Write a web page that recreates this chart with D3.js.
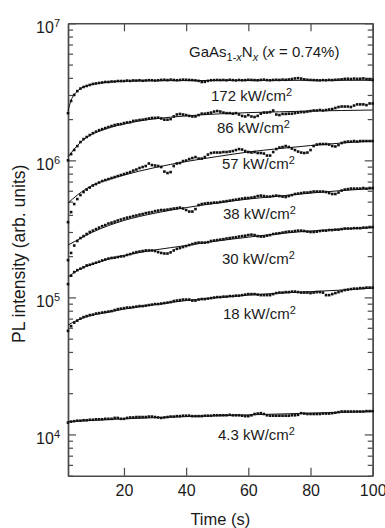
<!DOCTYPE html>
<html>
<head>
<meta charset="utf-8">
<script src="https://cdn.jsdelivr.net/npm/d3@7"></script>
<style>
  body { margin: 0; background: #fff; }
  svg { display: block; font-family: "Liberation Sans", Arial, sans-serif; }
</style>
</head>
<body>
<div id="chart"></div>
<script>
// sample times (s), one reading per second
const times = d3.range(2, 101);

// PL intensity traces (arb. units), t = 2 ... 100 s
const pl172 = [
  2.21e6, 2.71e6, 3.00e6, 3.20e6, 3.34e6, 3.43e6, 3.49e6, 3.55e6, 3.61e6,
  3.64e6, 3.67e6, 3.70e6, 3.73e6, 3.73e6, 3.76e6, 3.76e6, 3.79e6, 3.79e6, 3.79e6,
  3.82e6, 3.80e6, 3.83e6, 3.82e6, 3.84e6, 3.81e6, 3.83e6, 3.85e6, 3.84e6, 3.82e6,
  3.84e6, 3.86e6, 3.87e6, 3.85e6, 3.88e6, 3.86e6, 3.84e6, 3.86e6, 3.88e6, 3.87e6,
  3.86e6, 3.85e6, 3.83e6, 3.80e6, 3.73e6, 3.74e6, 3.80e6, 3.84e6, 3.85e6, 3.86e6,
  3.85e6, 3.86e6, 3.84e6, 3.87e6, 3.85e6, 3.83e6, 3.86e6, 3.84e6, 3.85e6, 3.87e6,
  3.86e6, 3.85e6, 3.84e6, 3.86e6, 3.88e6, 3.85e6, 3.84e6, 3.86e6, 3.87e6, 3.86e6,
  3.88e6, 3.87e6, 3.89e6, 3.92e6, 3.96e6, 3.98e6, 3.95e6, 3.90e6, 3.87e6, 3.86e6,
  3.85e6, 3.84e6, 3.83e6, 3.85e6, 3.84e6, 3.86e6, 3.85e6, 3.87e6, 3.88e6, 3.90e6,
  3.93e6, 3.94e6, 3.92e6, 3.95e6, 3.93e6, 3.94e6, 3.96e6, 3.92e6, 3.89e6, 3.86e6
];
const pl86 = [
  1.00e6, 1.11e6, 1.19e6, 1.27e6, 1.36e6, 1.43e6, 1.48e6, 1.53e6, 1.58e6,
  1.62e6, 1.66e6, 1.69e6, 1.72e6, 1.75e6, 1.78e6, 1.81e6, 1.83e6, 1.84e6, 1.87e6,
  1.89e6, 1.90e6, 1.94e6, 1.95e6, 1.97e6, 1.98e6, 2.00e6, 2.02e6, 2.04e6, 2.04e6,
  2.05e6, 2.02e6, 1.98e6, 1.98e6, 2.00e6, 2.09e6, 2.16e6, 2.18e6, 2.16e6, 2.14e6,
  2.11e6, 2.09e6, 2.09e6, 2.14e6, 2.19e6, 2.19e6, 2.21e6, 2.23e6, 2.27e6, 2.29e6,
  2.27e6, 2.23e6, 2.21e6, 2.21e6, 2.19e6, 2.21e6, 2.16e6, 2.11e6, 2.09e6, 2.14e6,
  2.09e6, 2.07e6, 2.11e6, 2.19e6, 2.23e6, 2.23e6, 2.25e6, 2.31e6, 2.16e6, 2.14e6,
  2.18e6, 2.18e6, 2.19e6, 2.19e6, 2.21e6, 2.23e6, 2.25e6, 2.25e6, 2.27e6, 2.29e6,
  2.31e6, 2.31e6, 2.33e6, 2.31e6, 2.33e6, 2.35e6, 2.37e6, 2.41e6, 2.45e6, 2.47e6,
  2.47e6, 2.47e6, 2.45e6, 2.51e6, 2.56e6, 2.56e6, 2.56e6, 2.53e6, 2.60e6, 2.60e6
];
const pl57 = [
  3.54e5, 4.19e5, 4.80e5, 5.22e5, 5.58e5, 5.87e5, 6.12e5, 6.33e5, 6.55e5,
  6.71e5, 6.89e5, 7.06e5, 7.18e5, 7.30e5, 7.43e5, 7.55e5, 7.68e5, 7.81e5, 7.94e5,
  8.08e5, 8.21e5, 8.42e5, 8.57e5, 8.79e5, 8.94e5, 9.09e5, 9.48e5, 9.24e5, 9.17e5,
  9.09e5, 8.94e5, 8.28e5, 8.08e5, 8.21e5, 9.09e5, 9.48e5, 9.56e5, 9.88e5, 9.97e5,
  1.022e6, 1.039e6, 1.057e6, 1.030e6, 1.030e6, 1.057e6, 1.102e6, 1.131e6, 1.140e6, 1.140e6,
  1.140e6, 1.150e6, 1.150e6, 1.159e6, 1.169e6, 1.189e6, 1.209e6, 1.199e6, 1.169e6, 1.150e6,
  1.140e6, 1.150e6, 1.131e6, 1.131e6, 1.121e6, 1.084e6, 1.084e6, 1.150e6, 1.209e6, 1.240e6,
  1.251e6, 1.272e6, 1.251e6, 1.219e6, 1.189e6, 1.159e6, 1.140e6, 1.131e6, 1.140e6, 1.189e6,
  1.272e6, 1.304e6, 1.315e6, 1.315e6, 1.315e6, 1.304e6, 1.272e6, 1.262e6, 1.293e6, 1.338e6,
  1.360e6, 1.371e6, 1.371e6, 1.383e6, 1.371e6, 1.383e6, 1.383e6, 1.383e6, 1.383e6, 1.383e6
];
const pl38 = [
  1.87e5, 2.11e5, 2.39e5, 2.58e5, 2.71e5, 2.80e5, 2.90e5, 3.00e5, 3.07e5,
  3.15e5, 3.23e5, 3.31e5, 3.37e5, 3.46e5, 3.51e5, 3.57e5, 3.64e5, 3.70e5, 3.76e5,
  3.82e5, 3.86e5, 3.92e5, 3.96e5, 4.02e5, 4.06e5, 4.12e5, 4.16e5, 4.19e5, 4.26e5,
  4.30e5, 4.34e5, 4.34e5, 4.37e5, 4.41e5, 4.45e5, 4.48e5, 4.52e5, 4.45e5, 4.34e5,
  4.23e5, 4.23e5, 4.41e5, 4.72e5, 4.80e5, 4.84e5, 4.88e5, 4.88e5, 4.92e5, 4.92e5,
  4.96e5, 5.00e5, 5.04e5, 5.08e5, 5.13e5, 5.17e5, 5.22e5, 5.26e5, 5.31e5, 5.31e5,
  5.35e5, 5.40e5, 5.49e5, 5.53e5, 5.49e5, 5.44e5, 5.44e5, 5.49e5, 5.53e5, 5.49e5,
  5.44e5, 5.40e5, 5.49e5, 5.58e5, 5.68e5, 5.72e5, 5.77e5, 5.82e5, 5.82e5, 5.87e5,
  5.92e5, 5.92e5, 5.92e5, 5.92e5, 5.87e5, 5.77e5, 5.68e5, 5.68e5, 5.82e5, 6.02e5,
  6.12e5, 6.17e5, 6.22e5, 6.22e5, 6.22e5, 6.22e5, 6.28e5, 6.22e5, 6.28e5, 6.28e5
];
const pl30 = [
  1.25e5, 1.44e5, 1.53e5, 1.58e5, 1.62e5, 1.66e5, 1.71e5, 1.73e5, 1.76e5,
  1.79e5, 1.82e5, 1.86e5, 1.89e5, 1.92e5, 1.94e5, 1.95e5, 1.97e5, 1.99e5, 2.00e5,
  2.04e5, 2.07e5, 2.11e5, 2.14e5, 2.16e5, 2.18e5, 2.20e5, 2.20e5, 2.20e5, 2.18e5,
  2.14e5, 2.11e5, 2.09e5, 2.09e5, 2.13e5, 2.20e5, 2.26e5, 2.29e5, 2.33e5, 2.37e5,
  2.41e5, 2.45e5, 2.49e5, 2.51e5, 2.51e5, 2.51e5, 2.53e5, 2.58e5, 2.60e5, 2.62e5,
  2.64e5, 2.66e5, 2.69e5, 2.71e5, 2.73e5, 2.75e5, 2.78e5, 2.80e5, 2.82e5, 2.85e5,
  2.87e5, 2.85e5, 2.80e5, 2.78e5, 2.78e5, 2.82e5, 2.85e5, 2.90e5, 2.92e5, 2.94e5,
  2.97e5, 3.00e5, 3.02e5, 3.02e5, 3.05e5, 3.07e5, 3.07e5, 3.05e5, 3.02e5, 3.00e5,
  3.00e5, 3.02e5, 3.05e5, 3.07e5, 3.07e5, 3.10e5, 3.10e5, 3.12e5, 3.12e5, 3.15e5,
  3.18e5, 3.18e5, 3.18e5, 3.20e5, 3.20e5, 3.20e5, 3.23e5, 3.23e5, 3.26e5, 3.26e5
];
const pl18 = [
  5.70e4, 6.17e4, 6.55e4, 6.77e4, 7.00e4, 7.18e4, 7.30e4, 7.43e4, 7.49e4,
  7.62e4, 7.68e4, 7.75e4, 7.81e4, 7.88e4, 7.94e4, 8.08e4, 8.21e4, 8.28e4, 8.35e4,
  8.43e4, 8.43e4, 8.50e4, 8.57e4, 8.64e4, 8.64e4, 8.71e4, 8.79e4, 8.86e4, 8.94e4,
  8.94e4, 9.01e4, 9.09e4, 9.16e4, 9.24e4, 9.40e4, 9.48e4, 9.56e4, 9.64e4, 9.64e4,
  9.64e4, 9.48e4, 9.48e4, 9.64e4, 9.72e4, 9.72e4, 9.80e4, 9.88e4, 9.97e4, 1.005e5,
  1.005e5, 1.013e5, 1.013e5, 1.022e5, 1.022e5, 1.030e5, 1.030e5, 1.039e5, 1.048e5, 1.057e5,
  1.057e5, 1.057e5, 1.048e5, 1.039e5, 1.039e5, 1.039e5, 1.039e5, 1.057e5, 1.075e5, 1.084e5,
  1.084e5, 1.093e5, 1.093e5, 1.102e5, 1.102e5, 1.093e5, 1.084e5, 1.084e5, 1.084e5, 1.075e5,
  1.084e5, 1.093e5, 1.093e5, 1.084e5, 1.039e5, 1.039e5, 1.057e5, 1.075e5, 1.093e5, 1.112e5,
  1.131e5, 1.140e5, 1.150e5, 1.159e5, 1.159e5, 1.169e5, 1.169e5, 1.179e5, 1.179e5, 1.179e5
];
const pl4 = [
  1.22e4, 1.24e4, 1.25e4, 1.26e4, 1.26e4, 1.27e4, 1.27e4, 1.28e4, 1.28e4,
  1.29e4, 1.29e4, 1.29e4, 1.30e4, 1.30e4, 1.30e4, 1.32e4, 1.32e4, 1.30e4, 1.30e4,
  1.32e4, 1.33e4, 1.33e4, 1.34e4, 1.34e4, 1.34e4, 1.34e4, 1.35e4, 1.35e4, 1.34e4,
  1.33e4, 1.32e4, 1.33e4, 1.34e4, 1.35e4, 1.35e4, 1.36e4, 1.36e4, 1.37e4, 1.37e4,
  1.37e4, 1.36e4, 1.36e4, 1.36e4, 1.36e4, 1.37e4, 1.37e4, 1.37e4, 1.38e4, 1.38e4,
  1.38e4, 1.38e4, 1.38e4, 1.39e4, 1.38e4, 1.38e4, 1.38e4, 1.37e4, 1.36e4, 1.36e4,
  1.38e4, 1.41e4, 1.42e4, 1.43e4, 1.41e4, 1.38e4, 1.37e4, 1.37e4, 1.37e4, 1.37e4,
  1.37e4, 1.37e4, 1.37e4, 1.38e4, 1.38e4, 1.39e4, 1.43e4, 1.42e4, 1.41e4, 1.41e4,
  1.41e4, 1.41e4, 1.41e4, 1.42e4, 1.42e4, 1.42e4, 1.43e4, 1.44e4, 1.455e4, 1.47e4,
  1.47e4, 1.47e4, 1.47e4, 1.47e4, 1.47e4, 1.47e4, 1.47e4, 1.48e4, 1.48e4, 1.48e4
];

// fitted curves, read at a few times
const fitT172 = [2, 3, 4, 5, 6, 8, 10, 13, 16, 20, 30, 50, 100];
const fit172 = [2.29e6, 2.75e6, 3.02e6, 3.20e6, 3.34e6, 3.49e6, 3.59e6, 3.68e6, 3.74e6, 3.78e6, 3.81e6, 3.83e6, 3.84e6];
const fitT86 = [2, 4, 6, 8, 10, 13, 16, 20, 25, 30, 40, 50, 60, 70, 80, 90, 100];
const fit86 = [1.057e6, 1.21e6, 1.35e6, 1.47e6, 1.56e6, 1.66e6, 1.75e6, 1.84e6, 1.94e6, 2.01e6, 2.11e6, 2.18e6, 2.23e6, 2.26e6, 2.29e6, 2.31e6, 2.33e6];
const fitT = [2, 5, 10, 15, 20, 30, 40, 50, 60, 70, 80, 90, 100];
const fit57 = [4.88e5, 5.58e5, 6.60e5, 7.24e5, 7.81e5, 8.86e5, 9.80e5, 1.066e6, 1.150e6, 1.219e6, 1.282e6, 1.338e6, 1.383e6];
const fit38 = [2.41e5, 2.62e5, 3.00e5, 3.34e5, 3.64e5, 4.12e5, 4.52e5, 4.88e5, 5.22e5, 5.49e5, 5.77e5, 6.02e5, 6.22e5];
const fit30 = [1.41e5, 1.57e5, 1.75e5, 1.90e5, 2.02e5, 2.22e5, 2.39e5, 2.58e5, 2.75e5, 2.92e5, 3.05e5, 3.15e5, 3.23e5];
const fit18 = [6.28e4, 6.83e4, 7.43e4, 7.81e4, 8.21e4, 8.86e4, 9.48e4, 9.97e4, 1.039e5, 1.075e5, 1.102e5, 1.131e5, 1.169e5];
const fitT4 = [2, 20, 50, 75, 100];
const fit4 = [1.24e4, 1.30e4, 1.37e4, 1.42e4, 1.47e4];

const powerLabels = ['172', '86', '57', '38', '30', '18', '4.3'];

const xTicks = [20, 40, 60, 80, 100];
const yMajor = [1e4, 1e5, 1e6, 1e7];

const series = [
  { power: powerLabels[0], values: pl172, fitT: fitT172, fit: fit172 },
  { power: powerLabels[1], values: pl86, fitT: fitT86, fit: fit86 },
  { power: powerLabels[2], values: pl57, fitT: fitT, fit: fit57 },
  { power: powerLabels[3], values: pl38, fitT: fitT, fit: fit38 },
  { power: powerLabels[4], values: pl30, fitT: fitT, fit: fit30 },
  { power: powerLabels[5], values: pl18, fitT: fitT, fit: fit18 },
  { power: powerLabels[6], values: pl4, fitT: fitT4, fit: fit4 }
];

// label anchor points (svg px) for the power annotations
const labelXY = [[211, 101], [217, 133], [222, 169], [223, 219], [222, 264], [223, 319], [218, 440]];

const totalW = 385, totalH = 528;
const margins = { top: 23.3, right: 12.3, bottom: 52.3, left: 68 };
const width = totalW - margins.left - margins.right;
const height = totalH - margins.top - margins.bottom;
const axisColor = '#4a4a4a';

const svg = d3.select('#chart').append('svg')
  .attr('width', totalW)
  .attr('height', totalH);

svg.append('rect').attr('width', totalW).attr('height', totalH).attr('fill', '#fff');

const canvas = svg.append('g')
  .attr('transform', `translate(${margins.left}, ${margins.top})`);

const xScale = d3.scaleLinear().domain([2, 100]).range([0, width]);
const yScale = d3.scaleLog().domain([5000, 1e7]).range([height, 0]);

const yMinor = yScale.ticks().filter(v => !yMajor.includes(v));

function tidy(g) {
  g.attr('font-size', 16).attr('font-family', null);
  g.selectAll('line').attr('stroke', axisColor).attr('stroke-width', 1.2);
  g.select('.domain').attr('stroke', axisColor).attr('stroke-width', 1.4);
  g.selectAll('text').attr('fill', '#1a1a1a');
}

// minor ticks (left + right)
canvas.append('g')
  .call(d3.axisLeft(yScale).tickValues(yMinor).tickSizeInner(-5).tickSizeOuter(0).tickFormat(''))
  .call(tidy);
canvas.append('g')
  .attr('transform', `translate(${width}, 0)`)
  .call(d3.axisRight(yScale).tickValues(yMinor).tickSizeInner(-5).tickSizeOuter(0).tickFormat(''))
  .call(tidy);

// major y ticks with 10^n labels
const yAxis = canvas.append('g')
  .call(d3.axisLeft(yScale).tickValues(yMajor).tickSizeInner(-8).tickSizeOuter(0).tickPadding(8).tickFormat(() => ''))
  .call(tidy);
yAxis.selectAll('.tick text')
  .attr('dy', '0.58em')
  .each(function (d) {
    const t = d3.select(this);
    t.append('tspan').text('10');
    t.append('tspan').attr('dy', -6).attr('font-size', 11).text(Math.round(Math.log10(d)));
  });

canvas.append('g')
  .attr('transform', `translate(${width}, 0)`)
  .call(d3.axisRight(yScale).tickValues(yMajor).tickSizeInner(-8).tickSizeOuter(0).tickFormat(''))
  .call(tidy);

// x axes
canvas.append('g')
  .attr('transform', `translate(0, ${height})`)
  .call(d3.axisBottom(xScale).tickValues(xTicks).tickSizeInner(-8).tickSizeOuter(0).tickPadding(9))
  .call(tidy);
canvas.append('g')
  .call(d3.axisTop(xScale).tickValues(xTicks).tickSizeInner(-8).tickSizeOuter(0).tickFormat(''))
  .call(tidy);

// fits and data
const fitLine = d3.line()
  .x(d => xScale(d.t))
  .y(d => yScale(d.v))
  .curve(d3.curveMonotoneX);

series.forEach(s => {
  const fitData = s.fitT.map((t, i) => ({ t: t, v: s.fit[i] }));
  canvas.append('path')
    .datum(fitData)
    .attr('d', fitLine)
    .attr('fill', 'none')
    .attr('stroke', '#111')
    .attr('stroke-width', 1);

  const pts = times.map((t, i) => ({ t: t, v: s.values[i] }));
  canvas.append('g').selectAll('rect')
    .data(pts)
    .enter()
    .append('rect')
    .attr('x', d => xScale(d.t) - 1.3)
    .attr('y', d => yScale(d.v) - 1.3)
    .attr('width', 2.6)
    .attr('height', 2.6)
    .attr('fill', '#111');
});

// power annotations
series.forEach((s, i) => {
  const txt = svg.append('text')
    .attr('x', labelXY[i][0])
    .attr('y', labelXY[i][1])
    .attr('font-size', 15)
    .attr('fill', '#1a1a1a');
  txt.append('tspan').text(s.power + ' kW/cm');
  txt.append('tspan').attr('dy', -5).attr('font-size', 11).text('2');
});

// sample label
const title = svg.append('text')
  .attr('x', 189)
  .attr('y', 57)
  .attr('font-size', 15)
  .attr('fill', '#1a1a1a');
title.append('tspan').text('GaAs');
title.append('tspan').attr('dy', 4).attr('font-size', 11).text('1-');
title.append('tspan').attr('font-size', 11).attr('font-style', 'italic').text('x');
title.append('tspan').attr('dy', -4).text('N');
title.append('tspan').attr('dy', 4).attr('font-size', 11).attr('font-style', 'italic').text('x');
title.append('tspan').attr('dy', -4).text(' (');
title.append('tspan').attr('font-style', 'italic').text('x');
title.append('tspan').text(' = 0.74%)');

// axis titles
svg.append('text')
  .attr('x', margins.left + xScale(60) - 28)
  .attr('y', 525)
  .attr('text-anchor', 'middle')
  .attr('font-size', 16.5)
  .attr('fill', '#1a1a1a')
  .text('Time (s)');

svg.append('text')
  .attr('transform', 'translate(25, 343) rotate(-90)')
  .attr('text-anchor', 'start')
  .attr('font-size', 17.5)
  .attr('fill', '#1a1a1a')
  .text('PL intensity (arb. units)');
</script>
</body>
</html>
